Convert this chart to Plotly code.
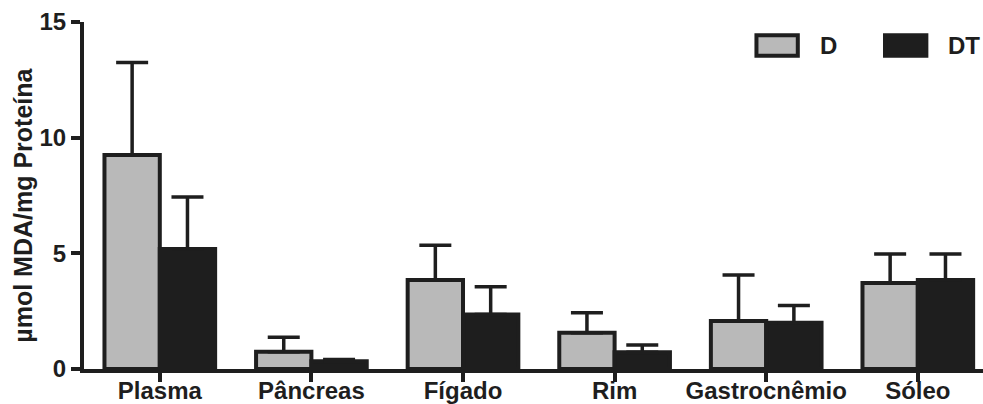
import plotly.graph_objects as go

# Tissue groups and MDA levels (mean and upper SEM) for each treatment
categories = ["Plasma", "Pâncreas", "Fígado", "Rim", "Gastrocnêmio", "Sóleo"]
d_mean = [9.25, 0.75, 3.85, 1.57, 2.08, 3.72]
d_err = [4.0, 0.62, 1.5, 0.86, 1.98, 1.25]
dt_mean = [5.19, 0.33, 2.36, 0.72, 2.0, 3.85]
dt_err = [2.25, 0.08, 1.2, 0.32, 0.74, 1.12]
y_ticks = [0, 5, 10, 15]

INK = "#1e1e1e"
GREY = "#b9b9b9"
FONT = "Liberation Sans, Arial, sans-serif"

fig = go.Figure()
for name, vals, errs, fill in [("D", d_mean, d_err, GREY), ("DT", dt_mean, dt_err, INK)]:
    fig.add_trace(go.Bar(
        name=name,
        x=list(range(len(categories))),
        y=vals,
        marker=dict(color=fill, line=dict(color=INK, width=4)),
        error_y=dict(type="data", symmetric=False, array=errs,
                     arrayminus=[0] * len(errs), color=INK,
                     thickness=3.5, width=16),
    ))

# Legend drawn as wide outlined swatches with bold labels
legend_items = [("D", GREY, 0.748), ("DT", INK, 0.891)]
for label, fill, x0 in legend_items:
    fig.add_shape(type="rect", xref="paper", yref="paper",
                  x0=x0, x1=x0 + 0.046, y0=0.903, y1=0.962,
                  fillcolor=fill, line=dict(color=INK, width=4))
    fig.add_annotation(xref="paper", yref="paper", x=x0 + 0.068, y=0.933,
                       text="<b>%s</b>" % label, showarrow=False,
                       xanchor="left", yanchor="middle",
                       font=dict(family=FONT, size=24, color=INK))

# Vertical axis title
fig.add_annotation(xref="paper", yref="paper", x=-0.068, y=0.473,
                   text="<b>µmol MDA/mg Proteína</b>", textangle=-90,
                   showarrow=False, xanchor="center", yanchor="middle",
                   font=dict(family=FONT, size=25, color=INK))

fig.update_layout(
    width=983, height=404,
    margin=dict(l=84, r=0, t=22, b=35),
    paper_bgcolor="white", plot_bgcolor="white",
    barmode="group", bargap=0.27, bargroupgap=0,
    showlegend=False,
    font=dict(family=FONT, color=INK),
    xaxis=dict(
        range=[-0.5, 5.43],
        automargin=False,
        tickmode="array",
        tickvals=list(range(len(categories))),
        ticktext=["<b>%s</b>" % c for c in categories],
        tickfont=dict(size=24, family=FONT, color=INK),
        ticks="outside", ticklen=9, tickwidth=3.5, tickcolor=INK,
        ticklabelstandoff=-12,
        showline=True, linecolor=INK, linewidth=4,
        showgrid=False, zeroline=False,
    ),
    yaxis=dict(
        range=[0, 15],
        automargin=False,
        tickmode="array",
        tickvals=y_ticks,
        ticktext=["<b>%d</b>" % t for t in y_ticks],
        tickfont=dict(size=24, family=FONT, color=INK),
        ticks="outside", ticklen=9, tickwidth=3.5, tickcolor=INK,
        showline=True, linecolor=INK, linewidth=4,
        showgrid=False, zeroline=False,
    ),
)

fig.write_html("out.html")
